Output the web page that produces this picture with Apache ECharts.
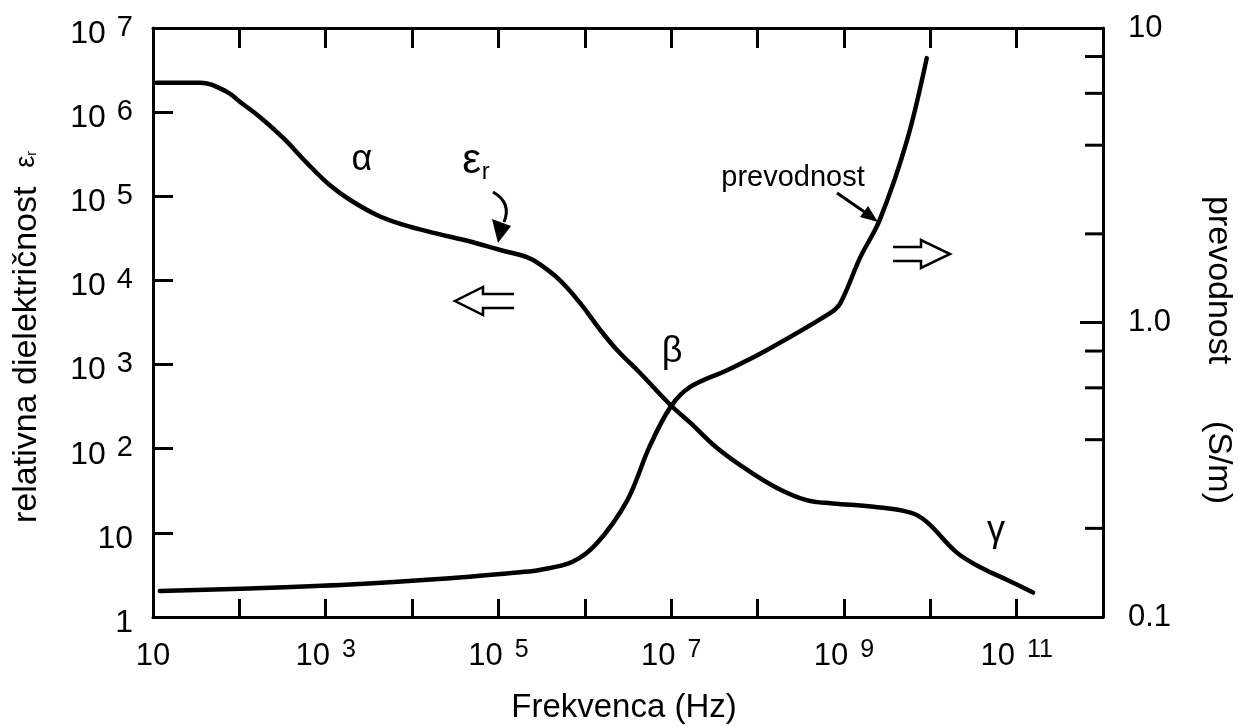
<!DOCTYPE html>
<html><head><meta charset="utf-8">
<script src="https://cdn.jsdelivr.net/npm/echarts@6/dist/echarts.min.js"></script>
<style>html,body{margin:0;padding:0;background:#fff}#c{width:1238px;height:726px}</style>
</head><body><div id="c"></div>
<script>
// Relative permittivity (left axis) vs frequency
const permFreq = [11, 35, 72, 102, 174, 324, 603, 1.12e3, 1.9e3, 3.9e3, 7.8e3, 1.95e4, 4.7e4, 1.05e5, 2.1e5, 3.03e5, 5.16e5, 8.79e5, 1.5e6, 2.36e6, 4.36e6, 9.8e6, 1.66e7, 3.4e7, 7.6e7, 1.7e8, 3.7e8, 7.4e8, 2.2e9, 5.9e9, 9.1e9, 2.0e10, 3.8e10, 7.8e10, 1.55e11];
const permValues = [2.24e6, 2.24e6, 1.74e6, 1.32e6, 8.7e5, 4.9e5, 2.5e5, 1.35e5, 9.1e4, 6.0e4, 4.6e4, 3.6e4, 2.9e4, 2.3e4, 1.9e4, 1.55e4, 1.0e4, 5.4e3, 2.6e3, 1.49e3, 794, 331, 204, 102, 56, 34, 24.5, 22.4, 20.4, 17.4, 13.5, 5.9, 3.9, 2.75, 1.95];
// Conductivity (right axis, S/m) vs frequency
const condFreq = [12, 132, 1.9e3, 2.75e4, 1.78e5, 3.0e5, 7.2e5, 1.38e6, 3.1e6, 5.6e6, 9.8e6, 1.66e7, 4.5e7, 1.29e8, 6.9e8, 9.1e8, 1.55e9, 2.6e9, 5.4e9, 9.1e9];
const condValues = [0.1225, 0.125, 0.129, 0.1355, 0.142, 0.1445, 0.154, 0.178, 0.249, 0.378, 0.516, 0.604, 0.69, 0.807, 1.076, 1.164, 1.667, 2.23, 4.17, 7.9];
// Tick labels
const xLabelExponents = [1, 3, 5, 7, 9, 11];
const rightLabels = {'-1': '0.1', '0': '1.0', '1': '10'};
const rightMinorTicks = [0.2, 0.4, 0.6, 0.8, 2, 4, 6, 8];

const FONT = 'Liberation Sans';
const chart = echarts.init(document.getElementById('c'), null, {renderer: 'canvas'});
const axisLine = {show: true, lineStyle: {color: '#000', width: 3}};
const tickStyle = {color: '#000', width: 3};

function expOf(v) { return Math.round(Math.log10(v)); }

const option = {
  animation: false,
  backgroundColor: '#fff',
  grid: {left: 153, right: 135, top: 28, bottom: 109, containLabel: false},
  xAxis: [{
    type: 'log', logBase: 10, min: 10, max: 1e12, interval: 1, splitNumber: 11, position: 'bottom',
    axisLine: axisLine, splitLine: {show: false},
    axisTick: {inside: true, length: 18, lineStyle: tickStyle, interval: 0},
    axisLabel: {
      margin: 17, color: '#000', interval: 0, hideOverlap: false,
      formatter: function (v) {
        const e = expOf(v);
        if (xLabelExponents.indexOf(e) < 0) return '';
        if (e === 1) return '{b|10}';
        return '{b|10}{s|' + e + '}';
      },
      rich: {
        b: {fontFamily: FONT, fontSize: 31, lineHeight: 36, padding: [8, 0, 0, 0], color: '#000'},
        s: {fontFamily: FONT, fontSize: 25, lineHeight: 24, verticalAlign: 'top', padding: [4, 0, 0, 12], color: '#000'}
      }
    }
  }, {
    type: 'log', logBase: 10, min: 10, max: 1e12, interval: 1, splitNumber: 11, position: 'top',
    axisLine: axisLine, splitLine: {show: false},
    axisTick: {inside: true, length: 20, lineStyle: tickStyle, interval: 0},
    axisLabel: {show: false}
  }],
  yAxis: [{
    type: 'log', logBase: 10, min: 1, max: 1e7, splitNumber: 7, position: 'left',
    axisLine: axisLine, splitLine: {show: false},
    axisTick: {inside: true, length: 20, lineStyle: tickStyle},
    axisLabel: {
      margin: 20, color: '#000',
      formatter: function (v) {
        const e = expOf(v);
        if (e === 0) return '{b|1}';
        if (e === 1) return '{b|10}';
        return '{b|10}{s|' + e + '}';
      },
      rich: {
        b: {fontFamily: FONT, fontSize: 32, lineHeight: 40, padding: [12, 0, 0, 0], color: '#000'},
        s: {fontFamily: FONT, fontSize: 29, lineHeight: 26, verticalAlign: 'top', padding: [5, 0, 0, 11], color: '#000'}
      }
    }
  }, {
    type: 'log', logBase: 10, min: 0.1, max: 10, splitNumber: 2, position: 'right',
    axisLine: axisLine, splitLine: {show: false},
    axisTick: {inside: true, length: 23, lineStyle: tickStyle},
    axisLabel: {
      margin: 25, color: '#000', fontFamily: FONT, fontSize: 31,
      formatter: function (v) { return rightLabels[String(expOf(v))] || ''; }
    }
  }],
  series: [{
    type: 'line', xAxisIndex: 0, yAxisIndex: 0, smooth: 0.4, showSymbol: false,
    data: permFreq.map((f, i) => [f, permValues[i]]),
    lineStyle: {color: '#000', width: 4.5, cap: 'round', join: 'round'}
  }, {
    type: 'line', xAxisIndex: 0, yAxisIndex: 1, smooth: 0.35, showSymbol: false,
    data: condFreq.map((f, i) => [f, condValues[i]]),
    lineStyle: {color: '#000', width: 4.5, cap: 'round', join: 'round'}
  }, {
    type: 'custom', xAxisIndex: 0, yAxisIndex: 1, clip: false, silent: true,
    data: rightMinorTicks.map(v => [1e12, v]),
    renderItem: function (params, api) {
      const y = api.coord([api.value(0), api.value(1)])[1];
      const x = params.coordSys.x + params.coordSys.width;
      return {type: 'line', shape: {x1: x - 18, y1: y, x2: x, y2: y}, style: {stroke: '#000', lineWidth: 3}};
    }
  }],
  graphic: [
    // Axis titles
    {type: 'text', x: 27, y: 337, rotation: Math.PI / 2,
     style: {text: 'relativna dielektričnost  {e|ε}{r|r}', x: 0, y: 0, align: 'center', verticalAlign: 'middle',
       font: '34px "Liberation Sans"', fill: '#000',
       rich: {e: {fontFamily: FONT, fontSize: 27, fill: '#000'}, r: {fontFamily: FONT, fontSize: 14, padding: [10, 0, 0, 0], fill: '#000'}}}},
    {type: 'text', x: 1218, y: 350, rotation: -Math.PI / 2,
     style: {text: 'prevodnost      (S/m)', x: 0, y: 0, align: 'center', verticalAlign: 'middle',
       font: '34px "Liberation Sans"', fill: '#000'}},
    {type: 'text', x: 624, y: 708,
     style: {text: 'Frekvenca (Hz)', x: 0, y: 0, align: 'center', verticalAlign: 'middle',
       font: '33px "Liberation Sans"', fill: '#000'}},
    // Greek annotations
    {type: 'text', x: 362, y: 160, style: {text: 'α', align: 'center', verticalAlign: 'middle', font: '36px "Liberation Sans"', fill: '#000'}},
    {type: 'text', x: 672, y: 352, style: {text: 'β', align: 'center', verticalAlign: 'middle', font: '36px "Liberation Sans"', fill: '#000'}},
    {type: 'text', x: 996, y: 531, style: {text: 'γ', align: 'center', verticalAlign: 'middle', font: '36px "Liberation Sans"', fill: '#000'}},
    {type: 'text', x: 476, y: 161,
     style: {text: '{e|ε}{r|r}', align: 'center', verticalAlign: 'middle', fill: '#000',
       rich: {e: {fontFamily: FONT, fontSize: 42, fill: '#000'}, r: {fontFamily: FONT, fontSize: 24, padding: [22, 0, 0, 1], fill: '#000'}}}},
    {type: 'text', x: 793, y: 178, style: {text: 'prevodnost', align: 'center', verticalAlign: 'middle', font: '29px "Liberation Sans"', fill: '#000'}},
    // ε_r curved arrow
    {type: 'bezierCurve', shape: {x1: 493, y1: 192, cpx1: 512, cpy1: 203, x2: 504, y2: 222}, style: {stroke: '#000', lineWidth: 3, fill: null}},
    {type: 'polygon', shape: {points: [[492, 219], [511, 226], [498, 243]]}, style: {fill: '#000'}},
    // prevodnost arrow
    {type: 'line', shape: {x1: 837, y1: 193, x2: 866, y2: 213}, style: {stroke: '#000', lineWidth: 3}},
    {type: 'polygon', shape: {points: [[860, 217], [868, 206], [878, 222]]}, style: {fill: '#000'}},
    // hollow arrows
    {type: 'polyline', shape: {points: [[514, 294], [483, 294], [483, 287], [455, 301], [483, 315], [483, 308], [514, 308]]},
     style: {stroke: '#000', lineWidth: 2.5, fill: null}},
    {type: 'polyline', shape: {points: [[893, 247], [921, 247], [921, 240], [950, 254], [921, 268], [921, 261], [893, 261]]},
     style: {stroke: '#000', lineWidth: 2.5, fill: null}}
  ]
};
chart.setOption(option);
</script>
</body></html>
